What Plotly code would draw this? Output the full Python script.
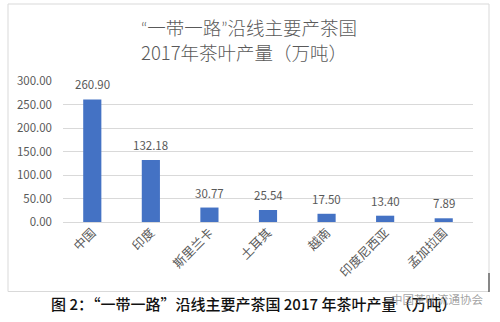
import plotly.graph_objects as go

categories = ["中国", "印度", "斯里兰卡", "土耳其", "越南", "印度尼西亚", "孟加拉国"]
values = [260.90, 132.18, 30.77, 25.54, 17.50, 13.40, 7.89]
y_ticks = [0, 50, 100, 150, 200, 250, 300]
y_tick_labels = ["0.00", "50.00", "100.00", "150.00", "200.00", "250.00", "300.00"]

title_line1 = ("<span style='font-family:Lato'>“</span>一带一路"
               "<span style='font-family:Lato'>”</span>沿线主要产茶国")
title_line2 = "2017年茶叶产量（万吨）"
caption = "图 2：“一带一路”沿线主要产茶国 2017 年茶叶产量（万吨）"
watermark = "中国茶叶流通协会"

W, H = 500, 322
L, R, T, B = 63, 27, 81, 100
PW, PH = W - L - R, H - T - B

def px(x):
    return (x - L) / PW

def py(y):
    return (H - B - y) / PH

FONT = "Noto Sans CJK SC"
GREY = "#595959"

fig = go.Figure()
fig.add_trace(go.Bar(
    x=categories, y=values, width=0.31,
    marker=dict(color="#4472C4", line=dict(width=0)),
    hoverinfo="skip",
))

annotations = []
for c, v in zip(categories, values):
    annotations.append(dict(
        x=c, y=v, xref="x", yref="y", text=f"{v:.2f}", showarrow=False,
        yanchor="middle", yshift=15,
        font=dict(family=FONT, size=11.5, color=GREY),
    ))

annotations += [
    dict(x=px(248.5), y=py(27), xref="paper", yref="paper", text=title_line1,
         showarrow=False, xanchor="center", yanchor="middle",
         font=dict(family=FONT, size=18.5, color=GREY, weight=300)),
    dict(x=px(243.5), y=py(52), xref="paper", yref="paper", text=title_line2,
         showarrow=False, xanchor="center", yanchor="middle",
         font=dict(family=FONT, size=18.5, color=GREY, weight=300)),
    dict(x=px(49), y=py(303), xref="paper", yref="paper", text=caption,
         showarrow=False, xanchor="left", yanchor="middle",
         font=dict(family=FONT, size=15, color="#111111", weight=500)),
    dict(x=px(389), y=py(299), xref="paper", yref="paper", text=watermark,
         showarrow=False, xanchor="left", yanchor="middle",
         font=dict(family=FONT, size=11.5, color="rgba(120,120,120,0.7)")),
]

shapes = [
    dict(type="rect", xref="paper", yref="paper",
         x0=px(8), x1=px(489), y0=py(291.5), y1=py(4),
         line=dict(color="#d9d9d9", width=1), fillcolor="rgba(0,0,0,0)", layer="below"),
    dict(type="line", xref="paper", yref="paper",
         x0=px(489), x1=px(489), y0=py(273), y1=py(292),
         line=dict(color="#222222", width=1)),
]

fig.update_layout(
    width=W, height=H,
    margin=dict(l=L, r=R, t=T, b=B, pad=0),
    paper_bgcolor="white", plot_bgcolor="white",
    showlegend=False,
    bargap=0.69,
    annotations=annotations,
    shapes=shapes,
    xaxis=dict(
        tickangle=-45, showgrid=False, showline=False, zeroline=False,
        tickfont=dict(family=FONT, size=12.5, color=GREY),
        ticks="", fixedrange=True,
    ),
    yaxis=dict(
        range=[0, 300], tickvals=y_ticks, ticktext=y_tick_labels,
        showgrid=True, gridcolor="#d9d9d9", gridwidth=1,
        zeroline=True, zerolinecolor="#d9d9d9", zerolinewidth=1,
        showline=False, ticks="", ticklabelstandoff=10,
        tickfont=dict(family=FONT, size=11.5, color=GREY), fixedrange=True,
    ),
)

fig.write_html("out.html", config=dict(displayModeBar=False))
